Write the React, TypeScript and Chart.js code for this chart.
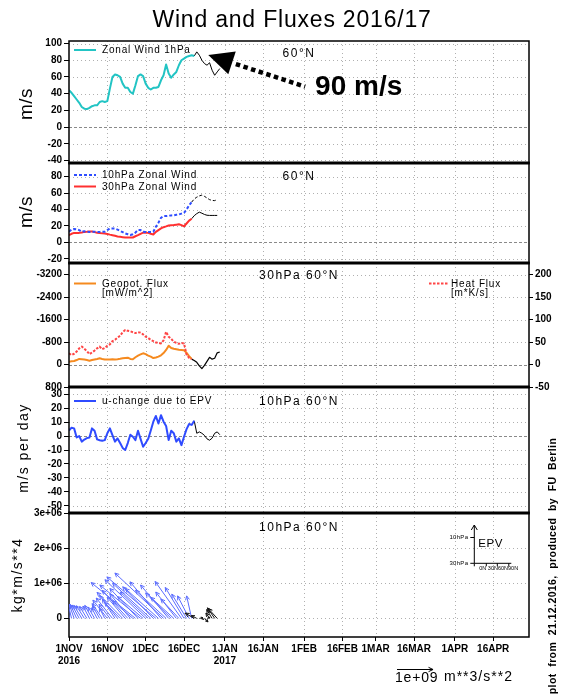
import React, { useEffect, useRef } from 'react';
import { Chart, registerables } from 'chart.js';
Chart.register(...registerables);

// ---------------- data ----------------
const tickDays = [0, 15, 30, 45, 61, 76, 92, 107, 120, 135, 151, 166];
const tickLabels: (string | string[])[] = [['1NOV', '2016'], '16NOV', '1DEC', '16DEC', ['1JAN', '2017'], '16JAN', '1FEB', '16FEB', '1MAR', '16MAR', '1APR', '16APR'];

const ticksP1 = [-40, -20, 0, 20, 40, 60, 80, 100];
const ticksP2 = [-20, 0, 20, 40, 60, 80];
const ticksP3Left = [-3200, -2400, -1600, -800, 0, 800];
const ticksP3Right = [-50, 0, 50, 100, 150, 200];
const ticksP4 = [-50, -40, -30, -20, -10, 0, 10, 20, 30];
const ticksP5 = [0, 1e6, 2e6, 3e6];

// zonal wind 1hPa 60N (from 1 Nov, daily)
const zonal1hPa = [44, 41, 37, 33, 29, 24, 22, 21.5, 23, 25, 26, 26, 30, 31, 30, 31, 46, 60, 63, 62, 60, 52, 47, 47, 42, 40, 50, 61, 63, 61, 52, 47, 45, 47, 47, 48, 56, 62, 75, 64, 59, 63, 66, 74, 80, 82, 84, 85, 86, 85];
const zonal1hPaFcStart = 49;
const zonal1hPaFc = [85, 90, 86, 80, 76, 74, 77, 68, 62, 66, 70];

const zonal10hPa = [13, 15.5, 16.4, 16, 15, 13, 13.5, 13, 12.8, 12.8, 13, 12.8, 12.8, 13, 13, 15, 17, 17, 16.8, 15.5, 14, 12.5, 11, 10, 9, 10, 12, 15, 15, 13, 12.8, 12.8, 12.8, 13, 19, 24, 30, 32, 32, 32.5, 32.8, 33, 33.6, 34, 35, 36, 40, 45, 49];
const zonal10hPaFcStart = 48;
const zonal10hPaFc = [49, 52.8, 55, 56.5, 57.5, 56, 54, 52, 51, 50.8, 52];

const zonal30hPa = [8.8, 10.5, 11.6, 11.6, 11.6, 12, 12.8, 13, 13.4, 13.2, 12.5, 11.8, 11.4, 11, 10.8, 10.3, 9.5, 8.8, 8, 7.2, 6.8, 6.4, 6, 6, 6, 6, 7.5, 8.8, 10.5, 12, 11.8, 11.6, 10.5, 9.6, 12.8, 15, 17, 18.5, 19.5, 20.6, 21, 21.2, 21.6, 22, 21, 19.6, 23, 26.5, 28.8];
const zonal30hPaFcStart = 48;
const zonal30hPaFc = [28.8, 32.5, 35, 36.8, 35.5, 34, 33, 32.8, 32.8, 32.8, 32.8];

const geopotFlux = [-100, -115, -126, -160, -200, -190, -180, -160, -137, -160, -180, -200, -223, -200, -180, -180, -180, -185, -180, -190, -205, -223, -235, -245, -200, -190, -260, -317, -360, -400, -370, -320, -280, -230, -250, -280, -330, -410, -520, -670, -590, -560, -547, -530, -520, -505, -420, -300, -200];
const heatFlux = [25, 21, 24, 29, 36, 40, 35, 30, 23, 27, 31, 36, 40, 34, 37, 42, 45, 52, 55, 60, 64, 72, 77, 75, 74, 72, 70, 72, 71, 67, 62, 59, 55, 52, 49, 48, 47, 54, 73, 62, 57, 51, 48, 46, 48, 47, 22, 15, 12];
const heatFluxFcStart = 48;
const heatFluxFc = [12, 9, 5, -3, -9, -2, 7, 16, 12, 14, 26, 28];

const uChange = [4, 6, 5.5, -1, 0, -4, -2.5, -1.5, -1, 5.5, 3.8, -2.4, -3, -3.4, -2.9, 2, 5.5, 0.7, -4, -1.7, -5, -8.5, -10, -5, 1, -0.5, -2.9, 3.8, -2, -7.7, -5, -2, 4, 10.3, 14.4, 9, 15, 10.3, 7.2, -2.9, 3.8, 2, -4, -1.7, -6.5, -0.5, 5, 8.6, 8, 11];
const uChangeFcStart = 49;
const uChangeFc = [11, 2, 3, 2, 0.5, -2, -3, -1.5, 2, 3, 1];

// EP-flux vectors at 10hPa 60N: horizontal (1e9 m**3/s**2) and vertical (1e6 kg*m/s**4)
const epvFx = [-0.02, -0.1, -0.14, -0.18, -0.2, -0.22, -0.22, -0.2, -0.18, -0.2, -0.18, -0.15, -0.2, -0.28, -0.15, -0.4, -0.3, -0.45,
  -0.35, -0.5, -0.43, -0.71, -0.5, -0.71, -0.57, -0.57, -1.23, -0.78, -1.13, -0.71, -1.13, -0.78, -1.06, -0.85, -1.36, -0.92, -0.86, -1.35, -0.85, -0.78, -0.71, -0.64, -0.57, -0.5, -0.73, -0.52, -0.41, -0.32, -0.14,
  -0.25, -0.15, 0.1, 0.05, 0.1, 0.08, -0.1, -0.15, -0.2, -0.25];
const epvFy = [0.41, 0.42, 0.41, 0.40, 0.38, 0.37, 0.36, 0.34, 0.35, 0.37, 0.32, 0.30, 0.36, 0.42, 0.30, 0.52, 0.40, 0.58,
  0.55, 0.65, 0.45, 0.74, 0.60, 0.80, 0.70, 0.50, 1.02, 0.85, 0.95, 0.62, 1.10, 0.75, 1.0, 0.90, 1.18, 0.85, 1.04, 1.29, 0.80, 0.95, 0.72, 0.60, 0.75, 0.55, 1.05, 0.88, 0.69, 0.64, 0.64,
  0.15, 0.08, 0.02, -0.03, -0.1, 0.03, 0.15, 0.25, 0.3, 0.28];
const epvFcStart = 49;

// ---------------- style / layout ----------------
const W = 566, H = 695;
const FONT = "'Liberation Sans', Arial, sans-serif";
const LABEL_FONT = { family: FONT, size: 10, weight: 'bold' as const };
const EPV_REF_DAYS = 14.1; // length of 1e9 reference vector, in days of the time axis

function series(values: number[], start: number) {
  return values.map((v, i) => ({ x: start + i, y: v }));
}
const setTicks = (vals: number[]) => (s: any) => { s.ticks = vals.map((v) => ({ value: v })); };
const fmtNum = (v: number) => String(v);
const fmtExp = (v: number) => (v === 0 ? '0' : Math.round(v / 1e6) + 'e+06');

function xScale(show: boolean) {
  return {
    type: 'linear', min: 0, max: 180,
    afterBuildTicks: setTicks(tickDays),
    afterFit: (s: any) => { s.height = show ? 30 : 0; },
    grid: { display: show, drawOnChartArea: false, drawTicks: true, tickLength: 4, color: '#000', lineWidth: 1 },
    border: { display: false },
    ticks: {
      display: show, autoSkip: false, maxRotation: 0, minRotation: 0, padding: 2, color: '#000', font: LABEL_FONT,
      callback: (v: number) => { const i = tickDays.indexOf(v); return i >= 0 ? tickLabels[i] : ''; },
    },
  };
}

function yScale(min: number, max: number, ticks: number[], fmt: (v: number) => string, position = 'left', reverse = false) {
  return {
    type: 'linear', min, max, position, reverse,
    afterBuildTicks: setTicks(ticks),
    afterFit: (s: any) => { s.width = position === 'left' ? 69 : 37; },
    grid: { drawOnChartArea: false, drawTicks: true, tickLength: position === 'left' ? 5 : 4, color: '#000', lineWidth: 1 },
    border: { display: false },
    ticks: { padding: 2, color: '#000', font: LABEL_FONT, autoSkip: false, callback: fmt },
  };
}

function ds(data: any[], color: string, width: number, yAxisID: string, dash: number[] = []) {
  return { data, borderColor: color, backgroundColor: color, borderWidth: width, yAxisID, borderDash: dash, pointRadius: 0, fill: false, tension: 0, borderJoinStyle: 'round', borderCapStyle: 'butt' };
}

function base(top: number, bottom: number, showX: boolean, hasRight: boolean, yScales: any) {
  return {
    responsive: false, animation: false, devicePixelRatio: 1, events: [],
    layout: { padding: { left: 0, right: hasRight ? 0 : 37, top, bottom: showX ? H - bottom - 30 : H - bottom } },
    plugins: { legend: { display: false }, tooltip: { enabled: false }, title: { display: false } },
    scales: { x: xScale(showX), ...yScales },
  };
}

// ---------------- drawing helpers ----------------
function seg(ctx: any, x1: number, y1: number, x2: number, y2: number) {
  ctx.beginPath(); ctx.moveTo(x1, y1); ctx.lineTo(x2, y2); ctx.stroke();
}
function txt(ctx: any, s: string, x: number, y: number, font: string, align = 'left', spacing = 0, rot = 0, baseline = 'middle') {
  ctx.save();
  ctx.font = font; ctx.fillStyle = '#000'; ctx.textAlign = align; ctx.textBaseline = baseline;
  ctx.letterSpacing = spacing + 'px';
  ctx.translate(x, y); if (rot) ctx.rotate(rot);
  ctx.fillText(s, 0, 0);
  ctx.restore();
}
function legendLine(ctx: any, x1: number, x2: number, y: number, color: string, dash: number[] = []) {
  ctx.save(); ctx.strokeStyle = color; ctx.lineWidth = 2; ctx.setLineDash(dash); seg(ctx, x1, y, x2, y); ctx.restore();
}
function arrow(ctx: any, x0: number, y0: number, x1: number, y1: number, head: number) {
  const len = Math.hypot(x1 - x0, y1 - y0);
  seg(ctx, x0, y0, x1, y1);
  if (len < 1.5) return;
  const a = Math.atan2(y1 - y0, x1 - x0);
  const h = Math.min(head, len * 0.6);
  seg(ctx, x1, y1, x1 - h * Math.cos(a - 0.45), y1 - h * Math.sin(a - 0.45));
  seg(ctx, x1, y1, x1 - h * Math.cos(a + 0.45), y1 - h * Math.sin(a + 0.45));
}

function drawGrid(chart: any, yId: string, zeroDash: boolean) {
  const { ctx, chartArea: a, scales } = chart;
  const xs = scales.x, ys = scales[yId];
  ctx.save();
  ctx.lineWidth = 1; ctx.strokeStyle = '#b0b0b0'; ctx.setLineDash([1, 3]);
  for (const d of tickDays) {
    const x = Math.round(xs.getPixelForValue(d)) + 0.5;
    if (x < a.left + 2 || x > a.right - 2) continue;
    seg(ctx, x, a.top, x, a.bottom);
  }
  for (const t of ys.ticks) {
    if (zeroDash && t.value === 0) continue;
    const y = Math.round(ys.getPixelForValue(t.value)) + 0.5;
    if (y < a.top + 2 || y > a.bottom - 2) continue;
    seg(ctx, a.left, y, a.right, y);
  }
  if (zeroDash) {
    ctx.setLineDash([3, 2]); ctx.strokeStyle = '#8a8a8a';
    const y = Math.round(ys.getPixelForValue(0)) + 0.5;
    seg(ctx, a.left, y, a.right, y);
  }
  ctx.restore();
}
function drawFrame(ctx: any, a: any, thickTop: boolean) {
  ctx.save(); ctx.strokeStyle = '#000'; ctx.setLineDash([]);
  ctx.lineWidth = 1.5;
  ctx.strokeRect(a.left, a.top, a.right - a.left, a.bottom - a.top);
  if (thickTop) { ctx.lineWidth = 3; seg(ctx, a.left - 0.75, a.top, a.right + 0.75, a.top); }
  ctx.restore();
}
function panelPlugin(yId: string, zeroDash: boolean, thickTop: boolean, after: (c: any) => void) {
  return {
    id: 'panelDeco',
    beforeDatasetsDraw(c: any) { drawGrid(c, yId, zeroDash); },
    afterDatasetsDraw(c: any) { drawFrame(c.ctx, c.chartArea, thickTop); after(c); },
  };
}

const F = (size: number, weight = 'normal') => `${weight} ${size}px ${FONT}`;

// ---------------- panel configs ----------------
function makeConfigs() {
  const p1 = {
    type: 'line',
    data: { datasets: [ds(series(zonal1hPa, 0), '#22c4c4', 2, 'y'), ds(series(zonal1hPaFc, zonal1hPaFcStart), '#000', 1, 'y')] },
    options: base(41, 163, false, false, { y: yScale(-43, 103, ticksP1, fmtNum) }),
    plugins: [panelPlugin('y', true, false, (c: any) => {
      const { ctx, chartArea: a, scales } = c;
      const cx = (a.left + a.right) / 2;
      txt(ctx, 'Wind and Fluxes 2016/17', 292, 21, F(23), 'center', 0.8);
      txt(ctx, 'm/s', 27, 104, F(19), 'center', 0.5, -Math.PI / 2);
      legendLine(ctx, a.left + 5, a.left + 27, a.top + 9, '#22c4c4');
      txt(ctx, 'Zonal Wind 1hPa', a.left + 33, a.top + 9.5, F(10), 'left', 0.8);
      txt(ctx, '60°N', cx, a.top + 13, F(12), 'center', 1.5);
      // annotation arrow "90 m/s"
      const xs = scales.x, ys = scales.y;
      const tx = xs.getPixelForValue(54.5), ty = ys.getPixelForValue(86.2);
      const px = xs.getPixelForValue(92.4), py = ys.getPixelForValue(48.3);
      const L = Math.hypot(tx - px, ty - py), ux = (tx - px) / L, uy = (ty - py) / L;
      const bx = tx - 25 * ux, by = ty - 25 * uy, nx = -uy, ny = ux;
      ctx.save();
      ctx.fillStyle = '#000';
      ctx.beginPath(); ctx.moveTo(tx, ty); ctx.lineTo(bx + 12 * nx, by + 12 * ny); ctx.lineTo(bx - 12 * nx, by - 12 * ny); ctx.closePath(); ctx.fill();
      ctx.strokeStyle = '#000'; ctx.lineWidth = 4.5; ctx.setLineDash([4.5, 3.5]); ctx.lineCap = 'butt';
      seg(ctx, bx - 4 * ux, by - 4 * uy, px, py);
      ctx.restore();
      txt(ctx, '90 m/s', xs.getPixelForValue(96.3), ys.getPixelForValue(38.4), F(28, 'bold'), 'left', 0, 0, 'alphabetic');
    })],
  };

  const p2 = {
    type: 'line',
    data: {
      datasets: [
        ds(series(zonal10hPa, 0), '#2f4dff', 2, 'y', [3, 2]),
        ds(series(zonal30hPa, 0), '#ff3030', 2, 'y'),
        ds(series(zonal10hPaFc, zonal10hPaFcStart), '#000', 1, 'y', [3, 2]),
        ds(series(zonal30hPaFc, zonal30hPaFcStart), '#000', 1, 'y'),
      ],
    },
    options: base(163, 263, false, false, { y: yScale(-25, 96.5, ticksP2, fmtNum) }),
    plugins: [panelPlugin('y', true, true, (c: any) => {
      const { ctx, chartArea: a } = c;
      txt(ctx, 'm/s', 27, 212, F(19), 'center', 0.5, -Math.PI / 2);
      legendLine(ctx, a.left + 5, a.left + 27, a.top + 12, '#2f4dff', [3, 2]);
      txt(ctx, '10hPa Zonal Wind', a.left + 33, a.top + 12.5, F(10), 'left', 0.8);
      legendLine(ctx, a.left + 5, a.left + 27, a.top + 23.5, '#ff3030');
      txt(ctx, '30hPa Zonal Wind', a.left + 33, a.top + 24, F(10), 'left', 0.8);
      txt(ctx, '60°N', (a.left + a.right) / 2, a.top + 14, F(12), 'center', 1.5);
    })],
  };

  const p3 = {
    type: 'line',
    data: {
      datasets: [
        ds(series(heatFlux, 0), '#ff4545', 2, 'y2', [2.5, 1.5]),
        ds(series(geopotFlux, 0), '#f58a1f', 2, 'y'),
        ds(series(heatFluxFc, heatFluxFcStart), '#000', 1.2, 'y2'),
      ],
    },
    options: base(263, 387, false, true, {
      y: yScale(-3616, 800, ticksP3Left, fmtNum, 'left', true),
      y2: yScale(-50, 226, ticksP3Right, fmtNum, 'right'),
    }),
    plugins: [panelPlugin('y', true, true, (c: any) => {
      const { ctx, chartArea: a } = c;
      legendLine(ctx, a.left + 5, a.left + 27, a.top + 20.5, '#f58a1f');
      txt(ctx, 'Geopot. Flux', a.left + 33, a.top + 21, F(10), 'left', 0.8);
      txt(ctx, '[mW/m^2]', a.left + 33, a.top + 30.5, F(10), 'left', 0.8);
      legendLine(ctx, a.right - 100, a.right - 81, a.top + 20.5, '#ff4545', [2.5, 1.5]);
      txt(ctx, 'Heat Flux', a.right - 78, a.top + 21, F(10), 'left', 0.8);
      txt(ctx, '[m*K/s]', a.right - 78, a.top + 30.5, F(10), 'left', 0.8);
      txt(ctx, '30hPa 60°N', (a.left + a.right) / 2, a.top + 13, F(12), 'center', 1.5);
    })],
  };

  const p4 = {
    type: 'line',
    data: {
      datasets: [
        ds(series(uChange, 0), '#2f4bff', 2, 'y'),
        ds(series(uChangeFc, uChangeFcStart), '#000', 1, 'y'),
      ],
    },
    options: base(387, 513, false, false, { y: yScale(-55.2, 35.2, ticksP4, fmtNum) }),
    plugins: [panelPlugin('y', true, true, (c: any) => {
      const { ctx, chartArea: a } = c;
      txt(ctx, 'm/s per day', 24, 448, F(14), 'center', 1.5, -Math.PI / 2);
      legendLine(ctx, a.left + 5, a.left + 27, a.top + 14, '#2f4bff');
      txt(ctx, 'u-change due to EPV', a.left + 33, a.top + 14.5, F(10), 'left', 0.8);
      txt(ctx, '10hPa 60°N', (a.left + a.right) / 2, a.top + 14.5, F(12), 'center', 1.5);
    })],
  };

  const p5 = {
    type: 'line',
    data: { datasets: [] as any[] },
    options: base(513, 637, true, false, { y: yScale(-530000, 3e6, ticksP5, fmtExp) }),
    plugins: [panelPlugin('y', false, true, (c: any) => {
      const { ctx, chartArea: a, scales } = c;
      const xs = scales.x, ys = scales.y;
      const refPx = xs.getPixelForValue(EPV_REF_DAYS) - xs.getPixelForValue(0);
      const y0 = ys.getPixelForValue(0);
      ctx.save();
      ctx.beginPath(); ctx.rect(a.left, a.top, a.right - a.left, a.bottom - a.top); ctx.clip();
      ctx.lineWidth = 1; ctx.setLineDash([]);
      for (let i = 0; i < epvFx.length; i++) {
        ctx.strokeStyle = i >= epvFcStart ? '#111' : '#5a6cff';
        const x0 = xs.getPixelForValue(i);
        arrow(ctx, x0, y0, x0 + epvFx[i] * refPx, ys.getPixelForValue(epvFy[i] * 1e6), 4.5);
      }
      ctx.restore();
      txt(ctx, 'kg*m/s**4', 18, 575, F(14), 'center', 1.5, -Math.PI / 2);
      txt(ctx, '10hPa 60°N', (a.left + a.right) / 2, a.top + 14.5, F(12), 'center', 1.5);
      // EPV inset
      const ax = a.right - 54.7;
      const yTop = a.top + 12, y10 = a.top + 24.5, yBase = a.top + 50.3;
      ctx.save(); ctx.strokeStyle = '#000'; ctx.lineWidth = 1; ctx.setLineDash([]);
      seg(ctx, ax, yBase, ax, yTop);
      seg(ctx, ax, yTop, ax - 3, yTop + 5); seg(ctx, ax, yTop, ax + 3, yTop + 5);
      seg(ctx, ax - 4, y10, ax, y10); seg(ctx, ax - 4, yBase, ax, yBase);
      seg(ctx, ax, yBase, ax + 37, yBase);
      for (const dx of [0, 12, 23, 34.5]) seg(ctx, ax + dx, yBase, ax + dx, yBase + 3);
      ctx.restore();
      txt(ctx, '10hPa', ax - 6, y10, F(6), 'right', 0.3);
      txt(ctx, '30hPa', ax - 6, yBase, F(6), 'right', 0.3);
      txt(ctx, '0N 30N60N90N', ax + 5, yBase + 5.5, F(5.5), 'left', 0);
      txt(ctx, 'EPV', ax + 4, a.top + 31, F(11.5), 'left', 0.5);
      // reference vector
      ctx.save(); ctx.strokeStyle = '#000'; ctx.lineWidth = 1; ctx.setLineDash([]);
      arrow(ctx, 397, 669.5, 397 + refPx, 669.5, 5);
      ctx.restore();
      txt(ctx, '1e+09', 395, 682, F(14), 'left', 0.8, 0, 'alphabetic');
      txt(ctx, 'm**3/s**2', 444, 681, F(14), 'left', 1, 0, 'alphabetic');
      // vertical credit text
      txt(ctx, 'plot  from  21.12.2016,  produced  by  FU  Berlin', 553, 566, F(10.5, 'bold'), 'center', 0.4, -Math.PI / 2);
    })],
  };

  return [p1, p2, p3, p4, p5];
}

export default function App() {
  const r1 = useRef<HTMLCanvasElement>(null);
  const r2 = useRef<HTMLCanvasElement>(null);
  const r3 = useRef<HTMLCanvasElement>(null);
  const r4 = useRef<HTMLCanvasElement>(null);
  const r5 = useRef<HTMLCanvasElement>(null);
  const refs = [r1, r2, r3, r4, r5];
  useEffect(() => {
    const cfgs = makeConfigs();
    const charts = cfgs.map((cfg, i) => new Chart(refs[i].current as HTMLCanvasElement, cfg as any));
    return () => charts.forEach((c) => c.destroy());
  }, []);
  return (
    <div style={{ position: 'absolute', left: 0, top: 0, width: W, height: H, background: '#fff' }}>
      {refs.map((r, i) => (
        <canvas key={i} ref={r} width={W} height={H} style={{ position: 'absolute', left: 0, top: 0, width: W, height: H }} />
      ))}
    </div>
  );
}
